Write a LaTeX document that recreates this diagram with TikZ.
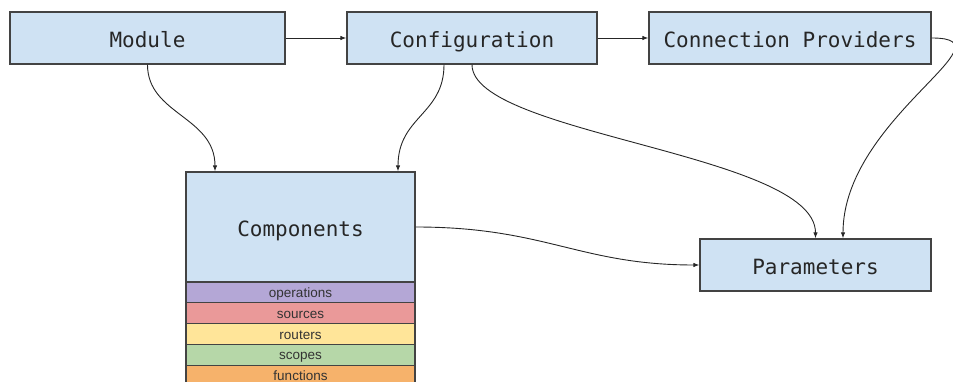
\documentclass[tikz,border=0pt]{standalone}
\usepackage{fontspec}
\setmainfont{Liberation Sans}
\setmonofont{DejaVu Sans Mono}
\usetikzlibrary{positioning,arrows.meta,calc}
\definecolor{gdblue}{HTML}{CFE2F3}
\definecolor{gdedge}{HTML}{434343}
\definecolor{gdpurple}{HTML}{B4A7D6}
\definecolor{gdred}{HTML}{EA9999}
\definecolor{gdyellow}{HTML}{FFE599}
\definecolor{gdgreen}{HTML}{B6D7A8}
\definecolor{gdorange}{HTML}{F6B26B}
\tikzset{
  box/.style={draw=gdedge, line width=1.3pt, fill=gdblue, inner sep=0pt,
    text height=19pt, text depth=0pt, text=black!85,
    font=\ttfamily\fontsize{21}{24}\selectfont},
  strip/.style={draw=gdedge, line width=1.1pt, inner sep=0pt, minimum width=229pt,
    minimum height=20.8pt, text height=10pt, text depth=0pt, text=black!80,
    font=\fontsize{13.5}{15}\selectfont},
  link/.style={draw=black!85, line width=0.9pt, -{Latex[length=6pt,width=4.5pt]}}
}

\begin{document}
\begin{tikzpicture}[x=1pt, y=-1pt]
    \useasboundingbox (0,0) rectangle (953,382);
    % top row
    \node[box, minimum width=275pt, minimum height=52pt] (module) at (147.5,38) {Module};
    \node[box, minimum width=250pt, minimum height=52pt] (config) at (472,38) {Configuration};
    \node[box, minimum width=282pt, minimum height=52pt] (providers) at (790,38) {Connection Providers};
    % lower row
    \node[box, minimum width=229pt, minimum height=110pt] (comp) at (300.5,227) {Components};
    \node[box, minimum width=231pt, minimum height=52pt] (params) at (815.5,265) {Parameters};
    \foreach \name/\col [count=\i] in {operations/gdpurple, sources/gdred, routers/gdyellow, scopes/gdgreen, functions/gdorange}
      \node[strip, fill=\col] (\name) at (300.5,{271.6+20.8*\i}) {\name};

    \draw[link] (module) -- (config);
    \draw[link] (config) -- (providers);
    \draw[link] (module.south) .. controls +(0,50) and +(0,-55) .. ([xshift=-85.5pt]comp.north);
    \draw[link] ([xshift=-28pt]config.south) .. controls +(0,50) and +(0,-55) .. ([xshift=97.5pt]comp.north);
    \draw[link] (config.south) .. controls +(0,70) and +(0,-85) .. (params.north);
    \draw[link] (providers.east) .. controls +(85,0) and +(0,-120) .. ([xshift=27.5pt]params.north);
    \draw[link] (comp.east) .. controls +(130,0) and +(-120,0) .. (params.west);
  \end{tikzpicture}
\end{document}
